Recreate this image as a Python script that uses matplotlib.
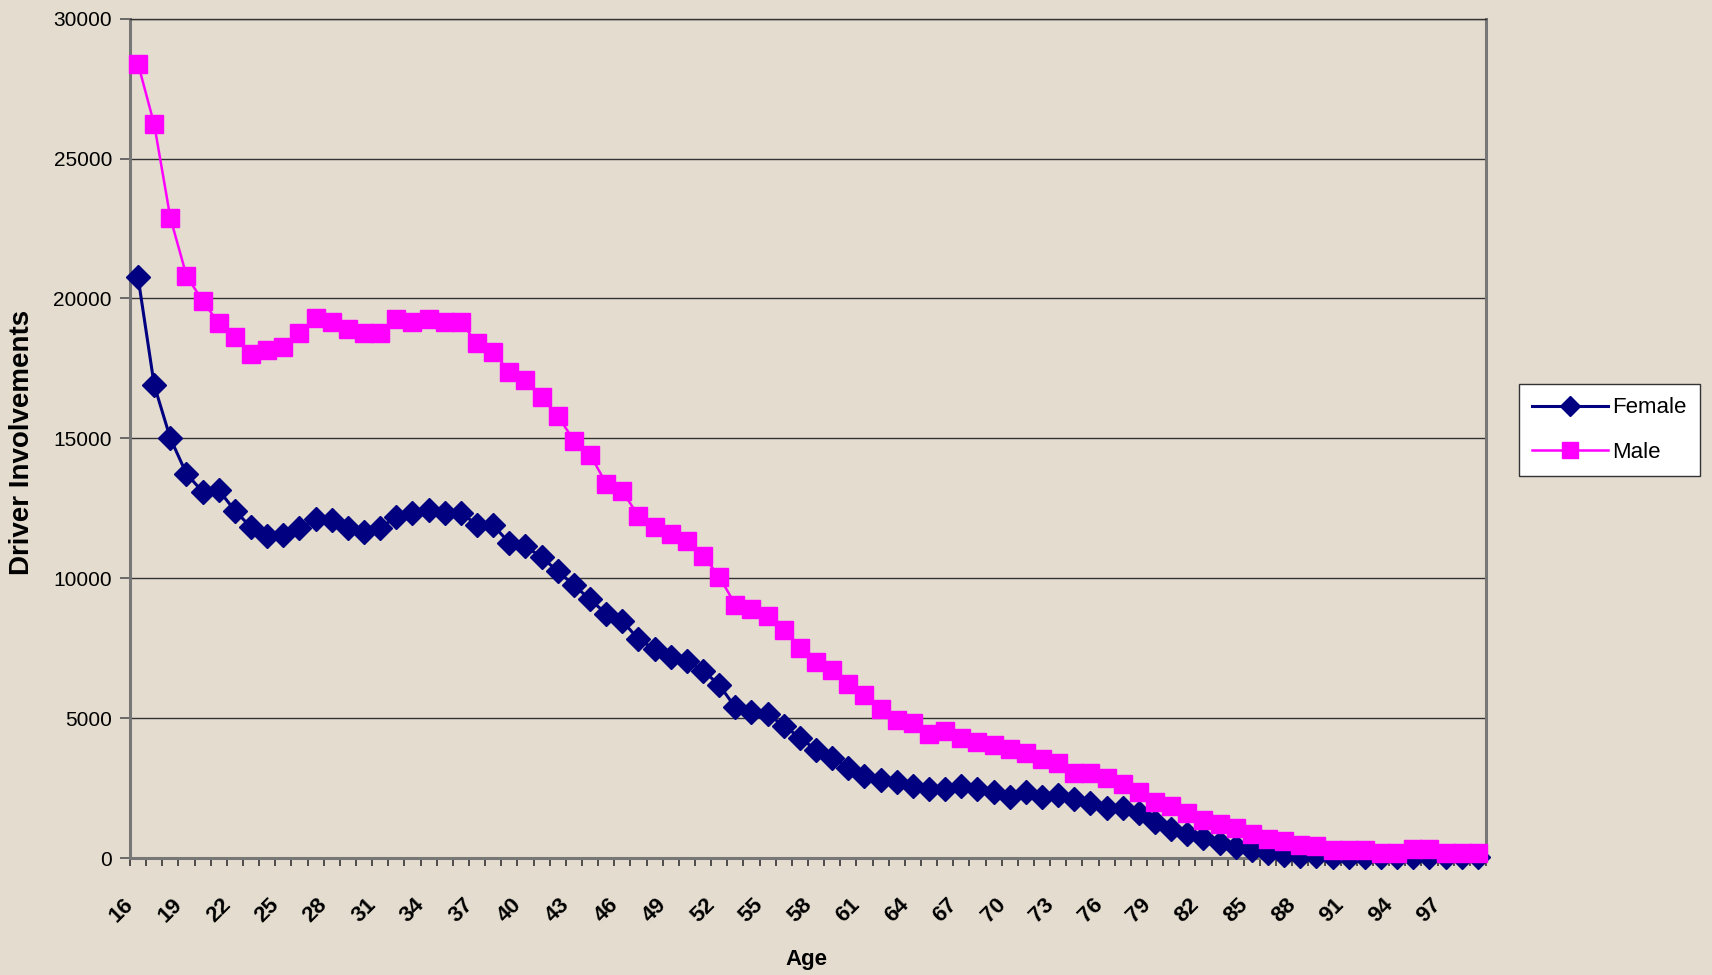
import numpy as np
import matplotlib
matplotlib.use("Agg")
import matplotlib.pyplot as plt  # noqa: E402

plt.rcParams["font.family"] = ["Liberation Sans", "DejaVu Sans"]

BG = "#e3dccf"
NAVY = "#000080"
MAGENTA = "#ff00ff"

ages = list(range(16, 100))  # 84 categories
age_labels = [str(a) for a in ages[::3]]

female = [20750, 16900, 15000, 13730, 13090, 13150, 12410, 11820, 11510, 11540,
          11800, 12100, 12080, 11800, 11650, 11800, 12190, 12330, 12450, 12330,
          12330, 11910, 11890, 11260, 11140, 10750, 10250, 9750, 9240, 8730,
          8470, 7820, 7460, 7190, 7040, 6690, 6190, 5380, 5230, 5140,
          4730, 4300, 3860, 3590, 3210, 2940, 2800, 2700, 2560, 2460,
          2460, 2580, 2460, 2350, 2180, 2350, 2180, 2260, 2110, 1970,
          1790, 1790, 1600, 1300, 1050, 850, 700, 550, 400, 280,
          180, 100, 80, 60, 50, 50, 40, 40, 30, 30,
          30, 20, 20, 20]

male = [28380, 26220, 22880, 20810, 19910, 19110, 18620, 18010, 18140, 18250,
        18780, 19300, 19150, 18900, 18750, 18750, 19270, 19150, 19270, 19150,
        19150, 18400, 18100, 17360, 17090, 16460, 15800, 14920, 14420, 13380,
        13110, 12220, 11840, 11570, 11330, 10800, 10060, 9050, 8900, 8660,
        8140, 7500, 7000, 6730, 6210, 5820, 5310, 4930, 4810, 4430,
        4550, 4280, 4160, 4040, 3900, 3770, 3530, 3390, 3030, 3030,
        2860, 2650, 2360, 2000, 1860, 1620, 1350, 1200, 1080, 850,
        690, 610, 450, 430, 300, 300, 270, 190, 190, 310,
        310, 180, 180, 180]

yticks = [0, 5000, 10000, 15000, 20000, 25000, 30000]

fig = plt.figure(figsize=(17.12, 9.75), dpi=100, facecolor=BG)
ax = fig.add_axes([130 / 1712, 1 - 858 / 975, (1486 - 130) / 1712, (858 - 18.6) / 975])
ax.set_facecolor(BG)

x = np.arange(len(ages))
ax.plot(x, female, color=NAVY, lw=2.2, marker="D", ms=12.5, mfc=NAVY, mec=NAVY,
        label="Female", zorder=3, clip_on=False)
ax.plot(x, male, color=MAGENTA, lw=1.8, marker="s", ms=13, mfc=MAGENTA, mec=MAGENTA,
        label="Male", zorder=4, clip_on=False)

ax.set_xlim(-0.5, len(ages) - 0.5)
ax.set_ylim(0, 30000)
ax.set_yticks(yticks)
ax.set_yticklabels([str(v) for v in yticks], fontsize=15)
ax.tick_params(axis="y", direction="out", length=7, width=1.2, color="#555555", pad=6)
ax.yaxis.grid(True, color="#333333", lw=1.0)
ax.set_axisbelow(True)

# tick marks at category boundaries, labels every 3rd category
ax.set_xticks(np.arange(-0.5, len(ages), 1.0))
ax.set_xticklabels([])
ax.tick_params(axis="x", which="major", direction="out", length=6, width=1.2, color="#333333")
ax.set_xticks(x[::3], minor=True)
ax.set_xticklabels(age_labels, minor=True, rotation=45, ha="right", va="top",
                   fontsize=16, fontweight="bold")
ax.tick_params(axis="x", which="minor", length=0, pad=26)

for s in ["left", "bottom", "right"]:
    ax.spines[s].set_color("#777777")
    ax.spines[s].set_linewidth(2.2)
ax.spines["top"].set_color("#333333")
ax.spines["top"].set_linewidth(1.0)

fig.text(806 / 1712, 1 - 959 / 975, "Age", ha="center", va="center",
         fontsize=16, fontweight="bold")
fig.text(22 / 1712, 1 - 442 / 975, "Driver Involvements", ha="center", va="center",
         rotation=90, fontsize=20, fontweight="bold")

leg = fig.legend(loc="center left", bbox_to_anchor=(1519 / 1712, 1 - 430 / 975),
                 borderaxespad=0, fontsize=16, frameon=True, fancybox=False,
                 framealpha=1, edgecolor="#333333", facecolor="white",
                 handlelength=3.4, borderpad=0.6, labelspacing=1.05,
                 handletextpad=0.2, markerscale=0.85)
leg.get_frame().set_linewidth(1.0)

fig.savefig("out.png", dpi=100, facecolor=BG)
